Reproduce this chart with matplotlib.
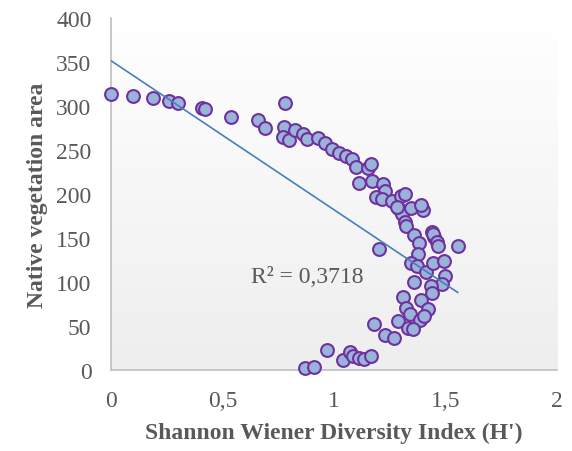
import numpy as np
import matplotlib
matplotlib.use("Agg")
import matplotlib.pyplot as plt

# Shannon Wiener index (H') vs native vegetation area
shannon = [0.00, 0.10, 0.19, 0.26, 0.30, 0.41, 0.42, 0.54, 0.66, 0.69, 0.78,
           0.776, 0.769, 0.80, 0.826, 0.86, 0.88, 0.927, 0.96, 0.99, 1.02, 1.054,
           1.08, 1.10, 1.15, 1.167, 1.11, 1.17, 1.22, 1.23, 1.19, 1.216, 1.26,
           1.30, 1.317, 1.287, 1.305, 1.347, 1.40, 1.39, 1.28, 1.317, 1.324, 1.36,
           1.44, 1.45, 1.444, 1.38, 1.46, 1.467, 1.554, 1.20,
           1.377, 1.347, 1.37, 1.414, 1.445, 1.494, 1.497, 1.485, 1.36, 1.434,
           1.437, 1.31, 1.39, 1.324, 1.42, 1.34, 1.385, 1.405, 1.287, 1.332,
           1.355, 1.18, 1.23, 1.27, 0.968, 1.04, 1.07, 1.084, 1.114, 1.134,
           1.167, 0.869, 0.908]
veg_area = [314, 311, 309, 306, 303, 298, 297, 288, 284, 275, 303,
            276, 265, 261, 273, 268, 263, 264, 258, 251, 247, 243,
            240, 231, 230, 234, 213, 215, 211, 204, 197, 194, 192,
            198, 200, 184, 177, 184, 182, 187, 185, 168, 164, 153,
            157, 151, 155, 144, 145, 141, 141, 138,
            132, 122, 118, 111, 122, 124, 107, 98, 100, 95,
            88, 83, 80, 70, 69, 64, 57, 61, 56, 48,
            47, 52, 40, 37, 23, 12, 20, 16, 14, 13,
            16, 2, 3]

# linear trend as printed by the spreadsheet
trend_intercept = 351.5
trend_slope = -169.4
r2_label = "R² = 0,3718"

x_ticks = [0, 0.5, 1, 1.5, 2]
x_ticklabels = ["0", "0,5", "1", "1,5", "2"]
y_ticks = list(range(0, 401, 50))

plt.rcParams["font.family"] = ["Liberation Serif", "DejaVu Serif"]
grey = "#595959"

fig = plt.figure(figsize=(5.72, 4.52), dpi=100)
ax = fig.add_axes([0.194, 0.179, 0.780, 0.779])

# soft white-to-grey plot area background
bg_cmap = matplotlib.colors.LinearSegmentedColormap.from_list("bg", ["#EEEEEE", "#FFFFFF"])
grad = np.linspace(1, 0, 256).reshape(-1, 1)
ax.imshow(grad, cmap=bg_cmap, extent=[0, 1, 0, 1], transform=ax.transAxes,
          aspect="auto", zorder=0)

ax.scatter(shannon, veg_area, s=85, facecolor="#9AB3D9", edgecolor="#7030A0",
           linewidth=1.5, zorder=3, clip_on=False)

xs = np.array([0, max(shannon)])
ax.plot(xs, trend_intercept + trend_slope * xs, color="#4A7EBB", lw=1.2, zorder=4)

ax.text(1.13, 106, r2_label, fontsize=17, color=grey, ha="right", va="center", zorder=5)

ax.set_xlim(0, 2)
ax.set_ylim(0, 400)
ax.set_xticks(x_ticks)
ax.set_xticklabels(x_ticklabels)
ax.set_yticks(y_ticks)
ax.tick_params(length=0, labelsize=17, labelcolor=grey)
ax.tick_params(axis="x", pad=14)
ax.tick_params(axis="y", pad=14)

for side in ["top", "right"]:
    ax.spines[side].set_visible(False)
ax.spines["left"].set_color("#BFBFBF")
ax.spines["bottom"].set_color("#BFBFBF")
ax.spines["left"].set_linewidth(1.2)
ax.spines["bottom"].set_linewidth(1.2)

ax.set_xlabel("Shannon Wiener Diversity Index (H')", fontsize=17, fontweight="bold",
              color=grey, labelpad=8)
ax.set_ylabel("Native vegetation area", fontsize=17, fontweight="bold", color=grey, labelpad=6)

fig.savefig("out.png", dpi=100)
